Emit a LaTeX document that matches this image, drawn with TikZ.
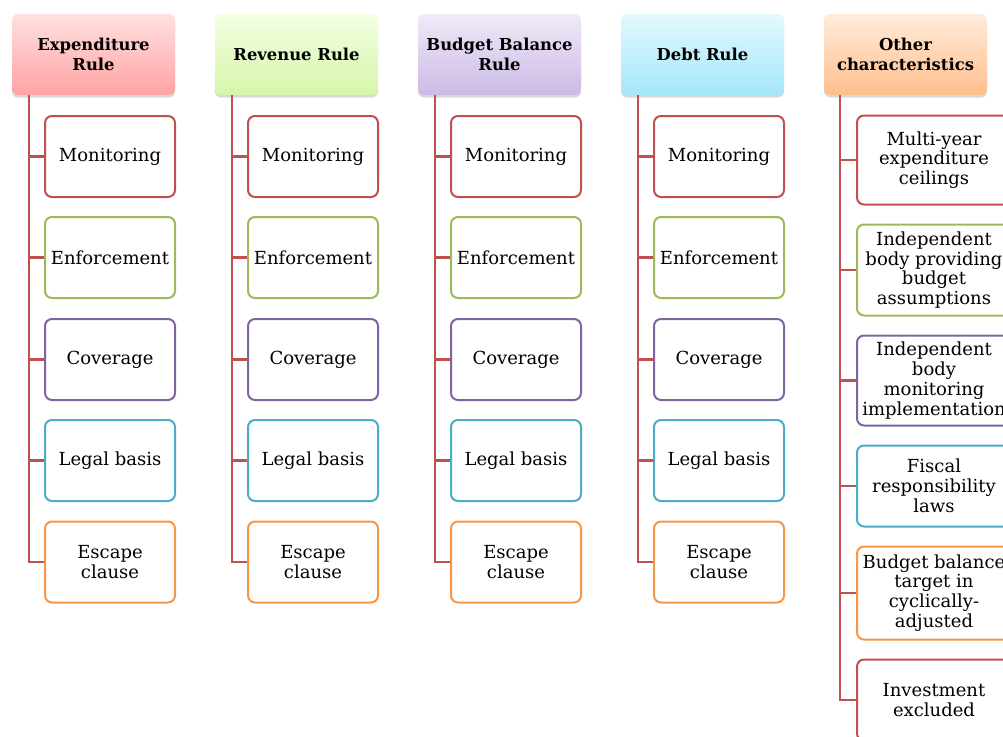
\documentclass[tikz,border=0pt]{standalone}
\usepackage{fontspec}
\setmainfont{DejaVu Serif}
\usetikzlibrary{shadows}
\definecolor{cred}{HTML}{C0504D}
\definecolor{cgreen}{HTML}{9BBB59}
\definecolor{cpurple}{HTML}{8064A2}
\definecolor{cblue}{HTML}{4BACC6}
\definecolor{corange}{HTML}{F79646}
\tikzset{
  hdr/.style={rounded corners=6pt, minimum width=163pt, minimum height=81pt, align=center,
    font=\bfseries\fontsize{16.4}{19.8}\selectfont, inner sep=2pt,
    drop shadow={shadow xshift=0pt, shadow yshift=-2.5pt, opacity=0.3}},
  item/.style={draw=#1, line width=2pt, fill=white, rounded corners=7pt, minimum width=130pt,
    minimum height=81pt, align=center, font=\fontsize{18}{19.8}\selectfont, inner sep=1pt},
  wide/.style={minimum width=154pt},
  link/.style={draw=cred, line width=2.2pt},
}
\begin{document}
\begin{tikzpicture}[x=1pt,y=-1pt]
\useasboundingbox (0,0) rectangle (1003,736);
% headers
\node[hdr, top color=red!12, bottom color={rgb,255:red,255;green,163;blue,163}] (h1) at (93.5,54.5) {Expenditure\\Rule};
\node[hdr, top color={rgb,255:red,243;green,255;blue,228}, bottom color={rgb,255:red,214;green,246;blue,170}] (h2) at (296.5,54.5) {Revenue Rule};
\node[hdr, top color={rgb,255:red,240;green,234;blue,248}, bottom color={rgb,255:red,204;green,186;blue,230}] (h3) at (499.5,54.5) {Budget Balance\\Rule};
\node[hdr, top color={rgb,255:red,228;green,249;blue,255}, bottom color={rgb,255:red,164;green,230;blue,250}] (h4) at (702.5,54.5) {Debt Rule};
\node[hdr, top color={rgb,255:red,255;green,236;blue,220}, bottom color={rgb,255:red,255;green,190;blue,140}] (h5) at (905.5,54.5) {Other\\characteristics};
% rule columns
\foreach \c/\x in {1/110, 2/313, 3/516, 4/719} {
  \node[item=cred] (c\c a) at (\x,156.5) {Monitoring};
  \node[item=cgreen] (c\c b) at (\x,257.5) {Enforcement};
  \node[item=cpurple] (c\c c) at (\x,359.5) {Coverage};
  \node[item=cblue] (c\c d) at (\x,460.5) {Legal basis};
  \node[item=corange] (c\c e) at (\x,562) {Escape\\clause};
  \foreach \k in {a,b,c,d,e} {
    \draw[link] ([xshift=17pt]h\c.south west) |- (c\c\k.west);
  }
}
% other characteristics
\node[item=cred, wide, minimum height=89pt] (c5a) at (934,160) {Multi-year\\expenditure\\ceilings};
\node[item=cgreen, wide, minimum height=91pt] (c5b) at (934,270) {Independent\\body providing\\budget\\assumptions};
\node[item=cpurple, wide, minimum height=90pt] (c5c) at (934,380.5) {Independent\\body\\monitoring\\implementation};
\node[item=cblue, wide, minimum height=81pt] (c5d) at (934,486) {Fiscal\\responsibility\\laws};
\node[item=corange, wide, minimum height=93pt] (c5e) at (934,593) {Budget balance\\target in\\cyclically-\\adjusted};
\node[item=cred, wide, minimum height=81pt] (c5f) at (934,700) {Investment\\excluded};
\foreach \k in {a,b,c,d,e,f} {
  \draw[link] ([xshift=16pt]h5.south west) |- (c5\k.west);
}
\end{tikzpicture}
\end{document}
